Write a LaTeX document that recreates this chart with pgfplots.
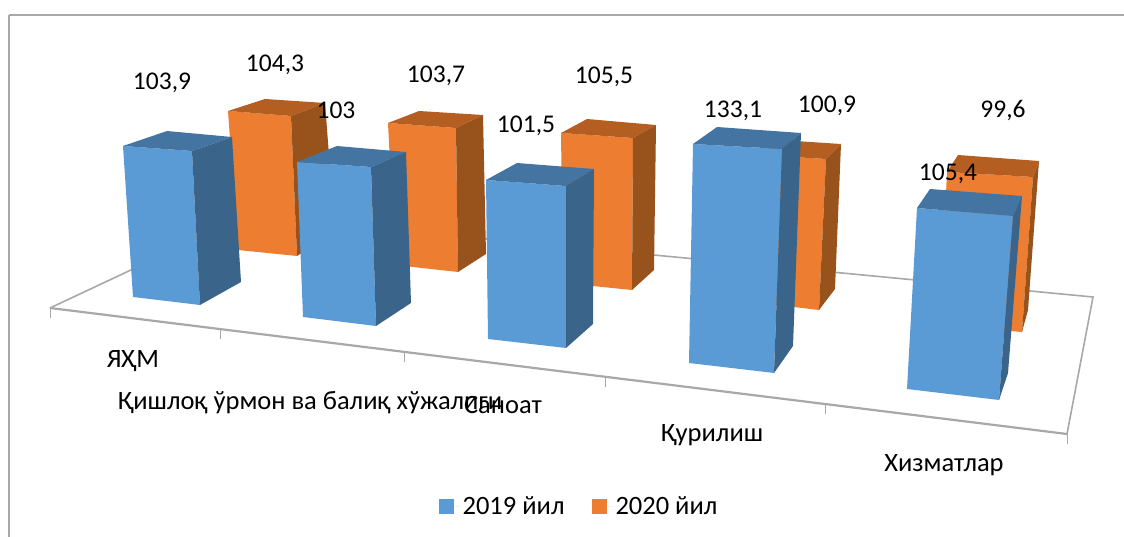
\documentclass[border=0pt]{standalone}
\usepackage{fontspec}
\setmainfont{Carlito}
\usepackage{pgfplots}
\pgfplotsset{compat=1.18}

\definecolor{bluef}{HTML}{5B9BD5}
\definecolor{bluet}{HTML}{4475A2}
\definecolor{blues}{HTML}{3A6489}
\definecolor{orangef}{HTML}{ED7D31}
\definecolor{oranget}{HTML}{B55E22}
\definecolor{oranges}{HTML}{98521C}
\definecolor{framec}{HTML}{A8A8A8}

% one polygon of the 3D look, in picture pixels
\newcommand{\face}[2]{\addplot[fill=#1,draw=none,forget plot] coordinates {#2} -- cycle;}
% #1 colour prefix, #2 front, #3 top, #4 side
\newcommand{\cuboid}[4]{\face{#1f}{#2}\face{#1t}{#3}\face{#1s}{#4}}
\newcommand{\edgeline}[2][1.6pt]{\addplot[framec,line width=#1,forget plot] coordinates {#2};}
\newcommand{\tickline}[1]{\addplot[framec,line width=1pt,forget plot] coordinates {#1};}

\begin{document}
\begin{tikzpicture}
\begin{axis}[
    width=1124pt, height=537pt, scale only axis,
    xmin=0, xmax=1124, ymin=0, ymax=537,
    y dir=reverse,
    hide axis,
    legend columns=2,
    legend style={at={(axis cs:579,506)},anchor=center,draw=none,fill=none,
        font=\fontsize{26.5}{30}\selectfont,
        /tikz/every even column/.append style={column sep=25pt},
        inner sep=0pt},
    legend image code/.code={\fill[#1,draw=none] (0pt,-7.5pt) rectangle (15pt,7.5pt);\path[draw=none] (0pt,0pt) -- (22pt,0pt);},
]
% whole picture, the hidden axis does not count for the page size
\path (axis cs:0,0) rectangle (axis cs:1124,537);

% frame
\edgeline{(9,15) (1124,15)}
\edgeline{(9,15) (9,537)}

% floor
\edgeline{(50,308) (246,216) (1093,297) (1067,434)}
\edgeline[2.2pt]{(50,308) (1067,434)}
\tickline{(50,308) (50,318)}
\tickline{(220,329) (220,339)}
\tickline{(404,352) (404,362)}
\tickline{(605,377) (605,387)}
\tickline{(825,404) (825,414)}
\tickline{(1067,434) (1067,444)}

% 2020
\cuboid{orange}{(228,111) (291,116) (297,256) (238,250)}{(228,111) (265,99) (325,103) (291,116)}{(291,116) (325,103) (335,233) (297,256)}
\cuboid{orange}{(388,123) (456,128) (458,272) (395,265)}{(388,123) (419,111) (483,115) (456,128)}{(456,128) (483,115) (486,254) (458,272)}
\cuboid{orange}{(561,133) (633,138) (632,290) (563,283)}{(561,133) (587,119) (656,125) (633,138)}{(633,138) (656,125) (654,270) (632,290)}
\cuboid{orange}{(760,155) (826,159) (819,310) (760,303)}{(760,155) (780,140) (841,144) (826,159)}{(826,159) (841,144) (835,289) (819,310)}
\cuboid{orange}{(947,172) (1033,177) (1022,332) (940,325)}{(947,172) (958,155) (1039,161) (1033,177)}{(1033,177) (1039,161) (1028,310) (1022,332)}

% 2019
\cuboid{blue}{(123,146) (192,151) (200,305) (133,297)}{(123,146) (167,131) (232,137) (192,151)}{(192,151) (232,137) (241,282) (200,305)}
\cuboid{blue}{(297,162) (371,167) (376,326) (303,317)}{(297,162) (337,146) (406,152) (371,167)}{(371,167) (406,152) (411,303) (376,326)}
\cuboid{blue}{(486,180) (566,186) (566,348) (488,339)}{(486,180) (517,163) (594,169) (566,186)}{(566,186) (594,169) (593,324) (566,348)}
\cuboid{blue}{(693,144) (782,149) (774,373) (689,363)}{(693,144) (717,127) (801,133) (782,149)}{(782,149) (801,133) (793,346) (774,373)}
\cuboid{blue}{(917,208) (1013,216) (999,400) (907,389)}{(917,208) (930,189) (1022,196) (1013,216)}{(1013,216) (1022,196) (1008,373) (999,400)}

\addlegendimage{fill=bluef}
\addlegendentry{2019 йил}
\addlegendimage{fill=orangef}
\addlegendentry{2020 йил}

\begin{scope}[every node/.style={font=\fontsize{25.5}{30}\selectfont,inner sep=0pt,text=black,anchor=base}]
\node at (axis cs:162,90) {103,9};
\node at (axis cs:275,72) {104,3};
\node at (axis cs:336,119) {103};
\node at (axis cs:436,83) {103,7};
\node at (axis cs:526,133) {101,5};
\node at (axis cs:604,84) {105,5};
\node at (axis cs:733,118) {133,1};
\node at (axis cs:827,113) {100,9};
\node at (axis cs:1003,118) {99,6};
\node at (axis cs:948,181) {105,4};
\end{scope}
\begin{scope}[every node/.style={font=\fontsize{26.5}{30}\selectfont,inner sep=0pt,text=black,anchor=base}]
\node at (axis cs:133,367) {ЯҲМ};
\node at (axis cs:310,409) {Қишлоқ ўрмон ва балиқ хўжалиги};
\node at (axis cs:503,413) {Саноат};
\node at (axis cs:712,441) {Қурилиш};
\node at (axis cs:944,471) {Хизматлар};
\end{scope}
\end{axis}
\end{tikzpicture}
\end{document}
